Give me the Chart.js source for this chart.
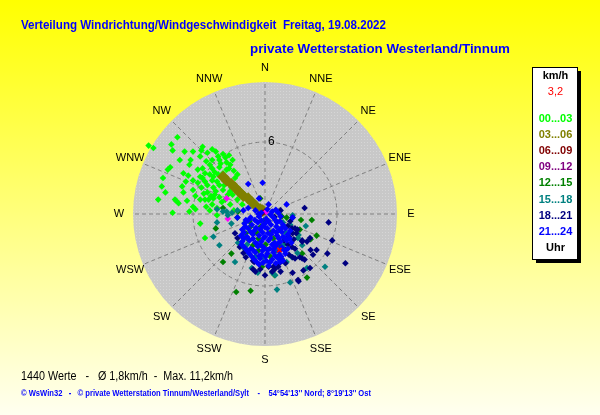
<!DOCTYPE html>
<html lang="de">
<head>
<meta charset="UTF-8">
<title>Verteilung Windrichtung/Windgeschwindigkeit</title>
<script src="https://cdn.jsdelivr.net/npm/chart.js"></script>
<style>
  html, body { margin: 0; padding: 0; background: #ffff00; }
  #wrap { width: 600px; height: 415px; }
</style>
</head>
<body>
<div id="wrap"><canvas id="rose" width="600" height="415"></canvas></div>
<script>
// Himmelsrichtungen, ab N im Uhrzeigersinn
const richtungen = ['N','NNE','NE','ENE','E','ESE','SE','SSE','S','SSW','SW','WSW','W','WNW','NW','NNW'];
const zeitraeume = ['00...03','03...06','06...09','09...12','12...15','15...18','18...21','21...24'];
const legendFarben = ['#00ff00','#808000','#800000','#800080','#008000','#008080','#000080','#0000ff'];
const punktFarben  = ['#00ff00','#808000','#800000','#ff00ff','#008000','#008080','#000080','#0000ff'];
const maxKmh = 11;      // Aussenkreis
const ringKmh = 6;      // beschrifteter Ring
const mittelWert = '3,2';

// Windvektoren je Zeitraum: [Ost, Nord] in km/h
const h00 = [[-7.3,6.4],[-9.7,5.7],[-9.3,5.5],[-7.8,5.8],[-7.7,5.3],[-6.0,5.2],[-5.2,5.6],[-5.3,5.3],[-5.4,4.8],[-4.8,5.1],
  [-4.1,5.2],[-3.9,4.8],[-3.5,5.0],[-4.4,4.5],[-4.9,4.4],[-6.2,4.5],[-6.3,4.1],[-2.7,4.5],[-3.8,4.5],[-3.2,4.3],
  [-5.2,3.8],[-5.6,3.7],[-4.4,3.8],[-3.8,3.9],[-3.2,3.7],[-8.1,3.7],[-7.9,3.9],[-6.8,3.4],[-5.4,3.1],[-5.2,3.0],
  [-4.6,3.3],[-4.2,3.5],[-3.5,3.4],[-8.5,3.0],[-6.0,2.8],[-4.4,2.8],[-4.0,2.7],[-3.6,3.0],[-2.3,3.3],[-2.5,3.0],
  [-8.6,2.3],[-6.9,2.3],[-6.0,2.0],[-5.3,2.2],[-4.8,1.8],[-4.3,2.2],[-3.8,2.4],[-3.5,2.0],[-6.8,1.8],[-7.5,1.2],
  [-7.2,0.9],[-5.4,1.2],[-5.0,1.2],[-4.3,1.3],[-3.8,1.4],[-2.7,1.6],[-2.3,1.2],[-6.0,0.6],[-4.4,0.8],[-4.0,0.5],
  [-2.9,0.8],[-7.7,0.1],[-6.3,0.2],[-5.4,-0.8],[-4.0,-0.1],[-7.4,1.1],[-5.0,-2.0],[-5.8,0.4],[-3.3,4.7],[-2.9,4.1],
  [-4.8,2.4],[-3.1,2.7],[-4.2,1.6],[-3.3,1.2],[-2.1,2.0],[-1.9,0.8],[-4.6,0.3],[-5.8,1.5],[-6.6,2.7],[-7.1,4.5],
  [-8.9,1.2],[-8.3,1.8],[-6.7,5.2],[-1.7,1.6],[-2.4,2.3],[-5.1,1.7],[-3.9,3.3],[-3.0,3.8],[-2.6,3.6],[-4.6,4.1],
  [-5.0,3.4],[-3.4,2.4],[-4.1,1.9],[-2.9,1.9],[-4.7,1.2],[-3.6,1.0],[-5.6,2.6],[-6.4,3.2],[-3.0,4.9],[-4.4,5.4],
  [-3.7,4.2],[-4.3,3.1],[-3.4,2.8],[-2.8,2.2],[-5.0,2.7],[-4.5,1.5],[-3.1,1.6],[-4.9,0.6],[-6.5,1.1],[-2.6,0.3]];
const h03 = [[-3.5,3.1],[-3.2,2.8],[-2.8,2.5],[-2.5,2.2],[-2.1,1.8],[-1.8,1.5],[-1.4,1.3],[-1.1,1.0],[-0.8,0.7],[-0.4,0.4],[-0.2,0.3]];
const h06 = [[0.0,0.2],[-0.2,0.1]];
const h09 = [[-3.2,1.3],[-3.1,-0.4],[0.1,0.2]];
const h12 = [[-1.2,-1.05],[-0.7,-1.55],[-1.45,-2.05],[-0.55,-2.05],[-1.0,-2.6],[0.05,-2.55],[-0.35,-1.05],[0.45,-1.55],
  [0.7,-2.05],[-0.55,-3.05],[1.15,-2.55],[0.45,-3.55],[-1.6,-1.6],[-0.1,-0.55],[-1.3,-0.6],[-2.4,-6.5],[-1.2,-6.4],
  [-3.5,-4.0],[-2.8,-3.3],[-4.1,-1.2],[-3.5,0.5],[3.0,-0.5],[4.3,-1.8],[3.8,-2.1],[3.5,-5.3],[-2.3,-0.3],[3.9,-0.5],
  [2.9,-1.3],[-0.4,1.3],[1.1,0.1],[1.8,-0.3],[1.4,-0.2],[3.1,-3.3],[1.2,-3.6],[-0.25,-4.4],[0.8,-5.1],[-2.25,0.2]];
const h15 = [[-2.5,-4.0],[-3.8,-2.6],[-4.3,-1.9],[-4.0,0.4],[-3.5,0.2],[-2.8,-0.8],[-1.9,-1.75],[-2.25,-2.4],[-1.8,-2.8],
  [-1.4,-3.25],[-1.1,-4.5],[-0.6,-4.9],[0.6,-4.9],[0.85,-5.1],[1.8,-4.0],[2.25,-3.6],[2.7,-3.25],[3.1,-2.6],[2.75,-2.0],
  [2.1,-0.9],[2.3,-0.1],[1.5,-0.7],[3.5,-4.5],[5.0,-4.4],[2.1,-5.7],[1.0,-6.3],[-3.1,-0.1],[3.4,-1.0],[2.8,-1.75],
  [-1.5,-2.55],[-0.8,-3.55],[0.95,-3.05],[1.6,-2.55],[-0.15,-3.6],[-1.75,-2.05],[1.7,-1.55],[-3.2,0.2],[-2.75,0.1],
  [-2.3,0.3],[-4.0,-0.7],[-1.7,-0.75]];
const h18 = [[3.3,0.5],[5.3,-0.7],[6.7,-4.1],[5.2,-3.3],[3.8,-3.0],[2.8,-5.6],[2.3,-4.9],[0.0,-5.1],[0.6,-4.8],[1.3,-4.8],
  [3.1,-3.7],[2.3,-0.3],[2.25,-1.2],[2.7,-1.3],[2.3,-1.6],[3.1,-2.3],[3.5,-2.3],[4.3,-3.0],[4.0,-3.4],[3.3,-3.8],
  [2.9,-3.6],[2.5,-3.7],[1.7,-4.1],[1.1,-4.4],[0.8,-4.6],[2.75,-5.5],[3.2,-4.7],[5.6,-2.2],[-2.5,-1.6],[-2.1,-2.75],
  [-1.8,-3.25],[-0.8,-4.8],[-1.0,-3.9],[-1.0,-4.6],[-0.9,-4.0],[0.3,-4.4],[3.75,-4.5],[2.25,-2.75],[1.7,-3.0],[2.0,-1.9],
  [2.5,-1.2],[3.1,-2.2],[3.75,-2.0],[1.9,-2.55],[2.4,-2.1],[2.5,-2.9],[2.0,-3.4],[1.4,-3.75],[2.6,-1.6],[1.9,-1.0],
  [1.2,-4.1],[0.7,-4.4],[2.3,-3.6],[1.6,-2.2],[2.1,-0.6],[0.8,-0.25],[1.3,0.3],[-1.6,-3.6],[-2.3,-2.0],[-0.4,-4.6]];
const h21 = [[-0.8,0.3],[0.2,0.4],[-0.3,0.1],[0.6,0.2],[1.1,0.1],
  [-1.2,-0.3],[-0.5,-0.2],[0.1,-0.4],[0.7,-0.3],[1.3,-0.2],[-1.6,-0.5],
  [-1.7,-0.8],[-1.1,-0.9],[-0.6,-0.7],[0.0,-0.8],[0.5,-0.9],[1.0,-0.7],[1.5,-0.9],[-0.2,-1.0],
  [-1.9,-1.3],[-1.4,-1.2],[-0.9,-1.4],[-0.4,-1.3],[0.2,-1.2],[0.7,-1.4],[1.2,-1.3],[1.7,-1.2],[2.1,-1.4],
  [-2.0,-1.8],[-1.5,-1.9],[-1.0,-1.7],[-0.5,-1.8],[0.0,-1.9],[0.5,-1.7],[1.0,-1.8],[1.5,-1.9],[1.9,-1.7],
  [-1.9,-2.3],[-1.3,-2.2],[-0.8,-2.4],[-0.3,-2.3],[0.3,-2.2],[0.8,-2.4],[1.3,-2.3],[1.8,-2.2],[2.2,-2.4],
  [-1.7,-2.8],[-1.2,-2.9],[-0.6,-2.7],[-0.1,-2.8],[0.4,-2.9],[0.9,-2.7],[1.4,-2.8],[1.9,-2.9],
  [-1.3,-3.3],[-0.8,-3.2],[-0.3,-3.4],[0.2,-3.3],[0.7,-3.2],[1.2,-3.4],[1.7,-3.3],
  [-0.9,-3.8],[-0.4,-3.7],[0.1,-3.9],[0.6,-3.8],[1.1,-3.7],[1.5,-3.9],
  [-0.5,-4.2],[0.3,-4.3],[0.9,-4.1],
  [-0.55,0.0],[0.45,-0.05],[0.9,0.35],
  [-1.4,-0.55],[-0.85,-0.5],[-0.3,-0.55],[0.3,-0.6],[0.85,-0.5],[1.25,-0.6],
  [-1.65,-1.05],[-0.75,-1.15],[0.0,-1.1],[0.95,-1.05],[1.45,-1.1],
  [-1.75,-1.55],[-1.2,-1.5],[-0.2,-1.55],[0.25,-1.6],[0.95,-1.55],[1.4,-1.5],
  [-1.75,-2.05],[-1.0,-2.05],[-0.1,-2.0],[0.45,-2.0],[1.15,-2.05],[1.65,-2.0],[2.05,-2.05],
  [-1.95,-2.55],[-0.65,-2.5],[-0.35,-2.6],[0.6,-2.55],[1.05,-2.5],
  [-1.5,-3.05],[-1.0,-3.0],[-0.2,-3.05],[0.2,-3.0],[0.7,-2.95],[1.2,-3.1],[1.65,-3.05],
  [-1.1,-3.55],[-0.5,-3.5],[0.05,-3.55],[0.85,-3.5],[1.35,-3.55],
  [-0.7,-4.0],[-0.15,-4.05],[0.4,-4.05],[1.25,-4.0],
  [-0.2,2.6],[-1.4,2.5],[-0.5,1.3],[0.3,0.8],[2.3,-0.3],[-2.3,-0.3],[1.8,0.8],[-1.8,0.3],[-1.4,0.5]];
const mittel = [[1.2,-3.0]];

const serien = [h00, h03, h06, h09, h12, h15, h18, h21];

const datasets = serien.map((s, i) => ({
  label: zeitraeume[i],
  data: s.map(p => ({ x: p[0], y: p[1] })),
  pointStyle: 'rectRot',
  pointRadius: i === 1 ? 2.5 : 3.3,
  borderWidth: 0,
  backgroundColor: punktFarben[i],
  borderColor: punktFarben[i],
  showLine: i === 1,
  order: 20 - i
}));
datasets[1].borderWidth = 5;
datasets.push({
  label: 'Mittel',
  data: mittel.map(p => ({ x: p[0], y: p[1] })),
  pointStyle: 'crossRot',
  pointRadius: 3,
  borderWidth: 1.5,
  borderColor: '#ff0000',
  order: 0
});

// Punktraster fuer die graue Scheibe
const muster = document.createElement('canvas');
muster.width = 3; muster.height = 3;
const mctx = muster.getContext('2d');
mctx.fillStyle = '#c8c8c8';
mctx.fillRect(0, 0, 3, 3);
mctx.fillStyle = '#d6d6d6';
mctx.fillRect(1, 1, 1, 1);

const windrose = {
  id: 'windrose',
  beforeDraw(chart) {
    const ctx = chart.ctx;
    const g = ctx.createLinearGradient(0, 0, 0, chart.height);
    g.addColorStop(0, '#ffff00');
    g.addColorStop(1, '#fffff0');
    ctx.save();
    ctx.fillStyle = g;
    ctx.fillRect(0, 0, chart.width, chart.height);
    ctx.restore();
  },
  beforeDatasetsDraw(chart) {
    const ctx = chart.ctx;
    const sx = chart.scales.x, sy = chart.scales.y;
    const cx = sx.getPixelForValue(0), cy = sy.getPixelForValue(0);
    const R = sx.getPixelForValue(maxKmh) - cx;
    const r6 = sx.getPixelForValue(ringKmh) - cx;
    ctx.save();
    ctx.fillStyle = ctx.createPattern(muster, 'repeat');
    ctx.beginPath();
    ctx.arc(cx, cy, R, 0, Math.PI * 2);
    ctx.fill();
    ctx.strokeStyle = '#808080';
    ctx.lineWidth = 1;
    ctx.setLineDash([4, 3]);
    ctx.beginPath();
    ctx.arc(cx, cy, r6, 0, Math.PI * 2);
    ctx.stroke();
    richtungen.forEach((d, i) => {
      const a = i * Math.PI / 8;
      ctx.beginPath();
      ctx.moveTo(cx, cy);
      ctx.lineTo(cx + R * Math.sin(a), cy - R * Math.cos(a));
      ctx.stroke();
    });
    ctx.restore();
  },
  afterDraw(chart) {
    const ctx = chart.ctx;
    const sx = chart.scales.x, sy = chart.scales.y;
    const cx = sx.getPixelForValue(0), cy = sy.getPixelForValue(0);
    const R = sx.getPixelForValue(maxKmh) - cx;
    const r6 = sx.getPixelForValue(ringKmh) - cx;
    ctx.save();
    // Richtungen
    ctx.fillStyle = '#000';
    ctx.font = "11px 'Liberation Sans', Arial, sans-serif";
    ctx.textAlign = 'center';
    ctx.textBaseline = 'middle';
    richtungen.forEach((d, i) => {
      const a = i * Math.PI / 8;
      const rl = R + 14;
      ctx.fillText(d, cx + rl * Math.sin(a), cy - rl * Math.cos(a));
    });
    ctx.font = "12px 'Liberation Sans', Arial, sans-serif";
    ctx.textAlign = 'left';
    ctx.fillText(String(ringKmh), cx + 3, cy - r6);

    // Titel
    ctx.fillStyle = '#0000ff';
    ctx.font = "bold 13px 'Liberation Sans', Arial, sans-serif";
    ctx.textAlign = 'left';
    ctx.fillText('Verteilung Windrichtung/Windgeschwindigkeit  Freitag, 19.08.2022', 21, 25, 365);
    ctx.font = "bold 13.4px 'Liberation Sans', Arial, sans-serif";
    ctx.fillText('private Wetterstation Westerland/Tinnum', 250, 49, 260);

    // Fusszeilen
    ctx.fillStyle = '#000';
    ctx.font = "12px 'Liberation Sans', Arial, sans-serif";
    ctx.fillText('1440 Werte   -   \u00d8 1,8km/h  -  Max. 11,2km/h', 21, 377, 212);
    ctx.fillStyle = '#0000ff';
    ctx.font = "bold 9px 'Liberation Sans', Arial, sans-serif";
    ctx.fillText('\u00a9 WsWin32   -   \u00a9 private Wetterstation Tinnum/Westerland/Sylt    -    54\u00b054\'13\'\' Nord; 8\u00b019\'13\'\' Ost', 21, 394, 350);

    // Legende
    const lx = 532, ly = 67, lw = 45, lh = 192;
    ctx.fillStyle = '#000';
    ctx.fillRect(lx + 4, ly + 4, lw, lh);
    ctx.fillStyle = '#fff';
    ctx.fillRect(lx, ly, lw, lh);
    ctx.strokeStyle = '#000';
    ctx.lineWidth = 1;
    ctx.strokeRect(lx + 0.5, ly + 0.5, lw, lh);
    const mx = lx + lw / 2 + 1;
    ctx.textAlign = 'center';
    ctx.font = "bold 11px 'Liberation Sans', Arial, sans-serif";
    ctx.fillStyle = '#000';
    ctx.fillText('km/h', mx, 76);
    ctx.font = "11px 'Liberation Sans', Arial, sans-serif";
    ctx.fillStyle = '#ff0000';
    ctx.fillText(mittelWert, mx, 92);
    ctx.font = "bold 11px 'Liberation Sans', Arial, sans-serif";
    zeitraeume.forEach((z, i) => {
      ctx.fillStyle = legendFarben[i];
      ctx.fillText(z, mx, 119 + i * 16.1);
    });
    ctx.fillStyle = '#000';
    ctx.fillText('Uhr', mx, 248);
    ctx.restore();
  }
};

const chart = new Chart(document.getElementById('rose'), {
  type: 'scatter',
  data: { datasets: datasets },
  options: {
    responsive: false,
    animation: false,
    devicePixelRatio: 1,
    layout: { padding: { left: 133, right: 203, top: 82, bottom: 69 } },
    scales: {
      x: { type: 'linear', min: -maxKmh, max: maxKmh, display: false },
      y: { type: 'linear', min: -maxKmh, max: maxKmh, display: false }
    },
    plugins: {
      legend: { display: false },
      tooltip: { enabled: false }
    }
  },
  plugins: [windrose]
});
</script>
</body>
</html>
